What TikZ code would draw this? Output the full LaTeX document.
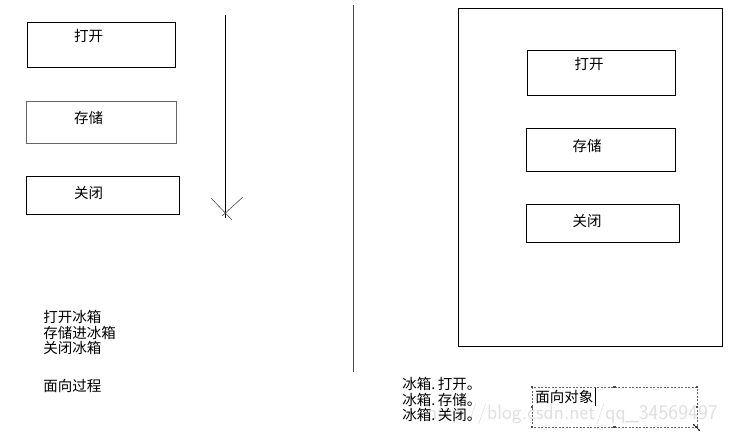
\documentclass[tikz,border=0pt]{standalone}
\usepackage{fontspec}
\setmainfont{Noto Sans CJK SC}
\usetikzlibrary{arrows.meta}

\tikzset{
    cjk/.style={inner sep=0pt, font=\fontsize{14.5}{15.5}\selectfont},
    handle/.style={fill=black!70, minimum size=2.5pt, inner sep=0pt},
}

\begin{document}
\begin{tikzpicture}[x=1pt, y=-1pt, line width=0.8pt]
    \useasboundingbox (0,0) rectangle (749,437);
    % left: procedure boxes
    \coordinate (L1a) at (27,22);  \coordinate (L1b) at (175,67);
    \coordinate (L2a) at (26,101); \coordinate (L2b) at (176,143);
    \coordinate (L3a) at (26,176); \coordinate (L3b) at (179,214);
	\draw [] (L1a) rectangle (L1b);
	\draw [black!60] (L2a) rectangle (L2b);
	\draw [] (L3a) rectangle (L3b);
	\node [cjk] (lopen) at (88.5,36) {打开};
	\node [cjk] (lstore) at (88.5,118) {存储};
	\node [cjk] (lclose) at (88.5,193) {关闭};
    % flow arrow
    \coordinate (Atop) at (225,15);
    \coordinate (Abot) at (225,218);
	\draw [] (Atop) -- (Abot);
	\draw [black!70, line width=0.6pt] (211,198) -- (232,220);
	\draw [black!70, line width=0.6pt] (243,197) -- (222,216);
    % divider
	\draw [black!70] (353,5) -- (353,372);
    % right: object with its methods
	\draw [] (458,8) rectangle (722,346);
	\draw [] (527,50) rectangle (675,95);
	\draw [] (526,128) rectangle (675,171);
	\draw [] (526,204) rectangle (679,242);
	\node [cjk] (ropen) at (589,64) {打开};
	\node [cjk] (rstore) at (587,146) {存储};
	\node [cjk] (rclose) at (587,221) {关闭};
    % captions
	\node [gray!25, inner sep=0pt, anchor=west, font=\fontsize{21}{21}\selectfont\sffamily] (mark) at (427,414) {http://blog.csdn.net/qq\_34569497};
	\node [cjk, anchor=north west, align=left] (lsteps) at (43,310) {打开冰箱\\存储进冰箱\\关闭冰箱};
	\node [cjk, anchor=west] (lproc) at (43,386) {面向过程};
	\node [cjk, anchor=north west, align=left] (rsteps) at (402,377) {冰箱.\,打开。\\冰箱.\,存储。\\冰箱.\,关闭。};
    % selected text frame
    \coordinate (Sa) at (532,387);
    \coordinate (Sb) at (697,427);
	\draw [black!60, line width=0.6pt, dash pattern=on 2pt off 1.5pt] (Sa) rectangle (Sb);
	\foreach \x in {532,614.5,697} {
		\node [handle] at (\x,387) {};
		\node [handle] at (\x,427) {};
	}
	\node [handle] at (532,407) {};
	\node [handle] at (697,407) {};
	\node [cjk, anchor=west] (robj) at (535,397) {面向对象};
	\draw [line width=0.5pt] (robj.east) ++(1,-9) -- ++(0,18);
	\draw [{Stealth[length=2.5pt]}-{Stealth[length=2.5pt]}, line width=0.5pt] (693,424) -- (700,431);
\end{tikzpicture}
\end{document}
